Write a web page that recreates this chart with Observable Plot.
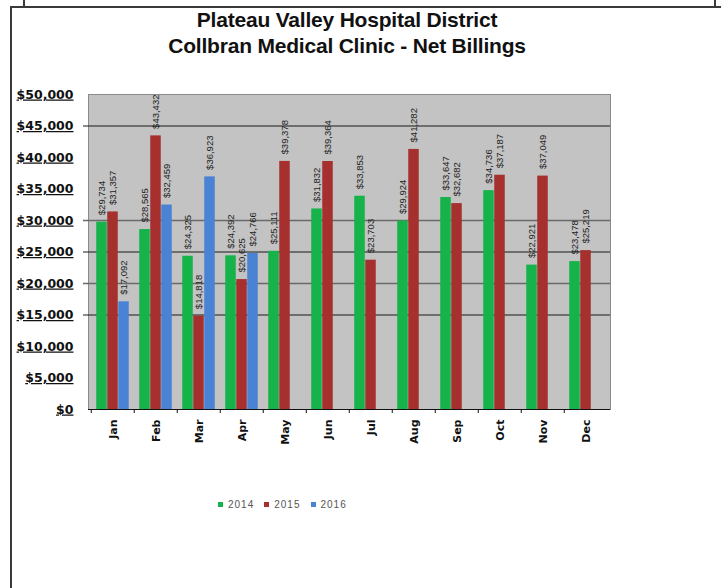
<!DOCTYPE html>
<html>
<head>
<meta charset="utf-8">
<script src="https://cdn.jsdelivr.net/npm/d3@7"></script>
<script src="https://cdn.jsdelivr.net/npm/@observablehq/plot@0.6"></script>
<style>
  html, body { margin: 0; padding: 0; background: #fff; }
  #wrap { position: relative; width: 721px; height: 588px; overflow: hidden; font-family: "Liberation Sans", Arial, sans-serif; }
  .border { position: absolute; background: #3a3a3a; }
  #title { position: absolute; left: 0; width: 694px; top: 7px; text-align: center; font-weight: bold; font-size: 21px; line-height: 26px; color: #111; letter-spacing: -0.2px; }
  #chart { position: absolute; left: 0; top: 0; }
  #legend { position: absolute; left: 218px; top: 488px; }
  #chart g[aria-label="y-axis tick label"] text { text-decoration: underline; }
</style>
</head>
<body>
<div id="wrap">
  <div class="border" style="left:10px;top:6px;width:2px;height:582px;"></div>
  <div class="border" style="left:10px;top:6px;width:711px;height:2px;"></div>
  <div class="border" style="left:23px;top:0;width:2px;height:7px;"></div>
  <div class="border" style="left:714px;top:0;width:2px;height:7px;"></div>
  <div id="title">Plateau Valley Hospital District<br>Collbran Medical Clinic - Net Billings</div>
  <div id="chart"></div>
  <div id="legend"></div>
</div>
<script>
const months = ["Jan","Feb","Mar","Apr","May","Jun","Jul","Aug","Sep","Oct","Nov","Dec"];
const years = ["2014","2015","2016"];
const v2014 = [29734, 28565, 24325, 24392, 25111, 31832, 33853, 29924, 33647, 34736, 22921, 23478];
const v2015 = [31357, 43432, 14818, 20625, 39378, 39364, 23703, 41282, 32682, 37187, 37049, 25219];
const v2016 = [17092, 32459, 36923, 24766];
const yTicks = [0, 5000, 10000, 15000, 20000, 25000, 30000, 35000, 40000, 45000, 50000];
const darkGrid = [45000, 25000, 15000];
const grayGrid = [30000, 20000];

const series = [v2014, v2015, v2016];
const rows = [];
months.forEach((m, i) => {
  years.forEach((y, j) => {
    const v = series[j][i];
    if (v !== undefined) rows.push({month: m, year: y, value: v});
  });
});

const money = d => "$" + d3.format(",")(d);
const band = (721 - 88 - 111) / months.length;
const barW = 11;
const inset = (band - barW) / 2;

const barMarks = years.flatMap((y, j) => {
  const data = rows.filter(r => r.year === y);
  return [
    Plot.barY(data, {x: "month", y: "value", fill: "year", dx: (j - 1) * barW, insetLeft: inset, insetRight: inset}),
    Plot.text(data, {x: "month", y: "value", text: d => money(d.value), rotate: -90, textAnchor: "start",
      dx: (j - 1) * barW, dy: -7, fontSize: 9.5, fill: "#222", fontFamily: "Liberation Sans"})
  ];
});

const plot = Plot.plot({
  width: 721,
  height: 588,
  marginTop: 94,
  marginBottom: 179,
  marginLeft: 88,
  marginRight: 111,
  style: {fontFamily: "Liberation Sans, Arial, sans-serif", background: "transparent", color: "#111"},
  x: {domain: months, padding: 0, label: null},
  y: {domain: [0, 50000], label: null},
  color: {domain: years, range: ["#15b34a", "#a5302d", "#4a83d3"]},
  marks: [
    Plot.frame({fill: "#c3c3c3", stroke: "#8a8a8a"}),
    Plot.ruleY(grayGrid, {stroke: "#6a6a6a", strokeWidth: 1.5, insetLeft: -5}),
    Plot.ruleY(darkGrid, {stroke: "#1a1a1a", strokeWidth: 1.2, insetLeft: -5}),
    ...barMarks,
    Plot.ruleY([0], {stroke: "#111", strokeWidth: 1.2}),
    Plot.axisY({ticks: yTicks, tickFormat: money, tickSize: 0, tickPadding: 15, fontWeight: "bold",
      fontSize: 12.5, fontFamily: "DejaVu Sans", label: null}),
    Plot.axisX({tickSize: 4, text: null, dx: -band / 2, stroke: "#111"}),
    Plot.axisX({tickSize: 0, tickRotate: -90, tickPadding: 10, fontWeight: "bold", fontSize: 11,
      label: null, fontFamily: "DejaVu Sans"})
  ]
});
document.getElementById("chart").appendChild(plot);

const legend = plot.legend("color", {swatchSize: 5, style: {fontSize: "10px", letterSpacing: "1px", color: "#555", fontFamily: "Liberation Sans, Arial, sans-serif"}});
document.getElementById("legend").appendChild(legend);
</script>
</body>
</html>
